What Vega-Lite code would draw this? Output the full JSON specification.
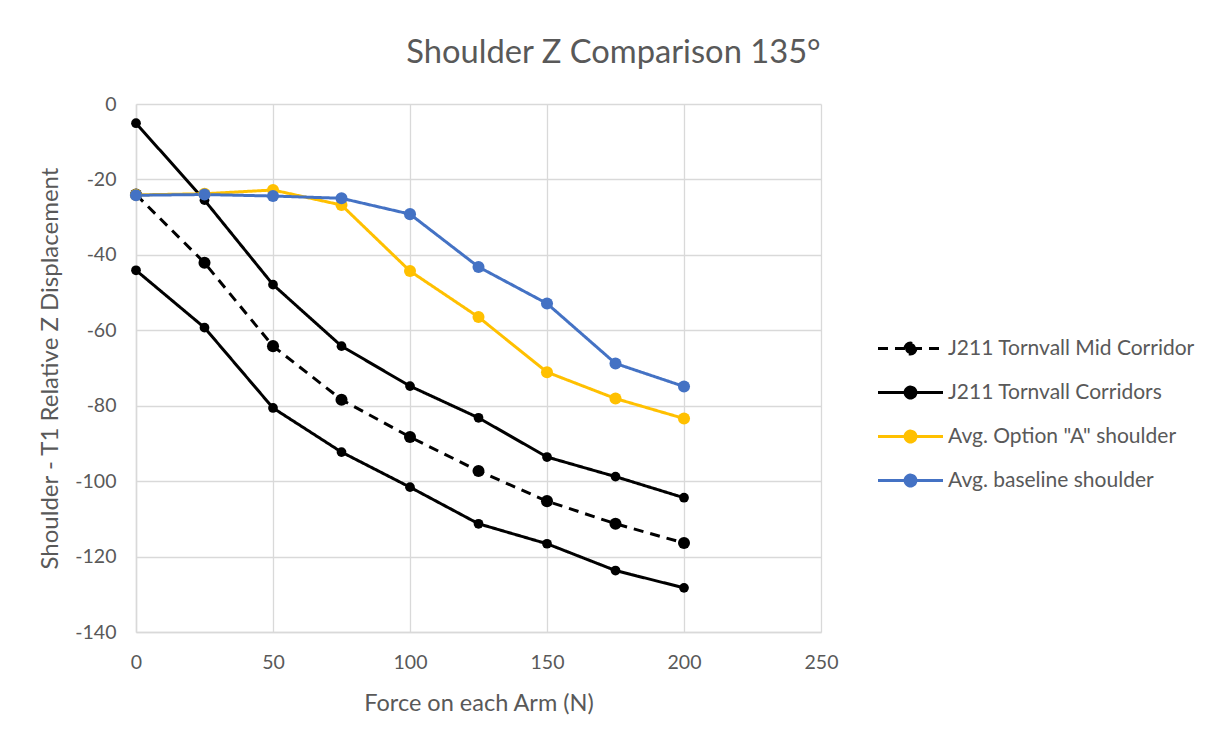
{
  "$schema": "https://vega.github.io/schema/vega-lite/v6.json",
  "width": 685,
  "height": 528,
  "autosize": {"type": "none"},
  "padding": {"left": 136, "top": 104, "right": 404, "bottom": 113},
  "background": "white",
  "title": {
    "text": "Shoulder Z Comparison 135°",
    "font": "Lato",
    "fontSize": 32.7,
    "fontWeight": "normal",
    "color": "#595959",
    "anchor": "middle",
    "frame": "group",
    "dx": 135,
    "offset": 24
  },
  "config": {
    "view": {"stroke": null},
    "axis": {
      "labelFont": "Lato",
      "labelFontSize": 19.5,
      "labelColor": "#595959",
      "titleFont": "Lato",
      "titleFontSize": 23.5,
      "titleFontWeight": "normal",
      "titleColor": "#595959",
      "gridColor": "#D9D9D9",
      "gridWidth": 1.3,
      "domainColor": "#D9D9D9",
      "domainWidth": 1.5,
      "ticks": false,
      "labelFlush": false
    },
    "legend": {
      "labelFont": "Lato",
      "labelFontSize": 21,
      "labelColor": "#595959",
      "labelLimit": 0
    }
  },
  "data": {
    "values": [
      {"force": 0, "disp": -24.0, "series": "J211 Tornvall Mid Corridor", "line": "mid"},
      {"force": 25, "disp": -42.1, "series": "J211 Tornvall Mid Corridor", "line": "mid"},
      {"force": 50, "disp": -64.2, "series": "J211 Tornvall Mid Corridor", "line": "mid"},
      {"force": 75, "disp": -78.4, "series": "J211 Tornvall Mid Corridor", "line": "mid"},
      {"force": 100, "disp": -88.3, "series": "J211 Tornvall Mid Corridor", "line": "mid"},
      {"force": 125, "disp": -97.3, "series": "J211 Tornvall Mid Corridor", "line": "mid"},
      {"force": 150, "disp": -105.3, "series": "J211 Tornvall Mid Corridor", "line": "mid"},
      {"force": 175, "disp": -111.3, "series": "J211 Tornvall Mid Corridor", "line": "mid"},
      {"force": 200, "disp": -116.4, "series": "J211 Tornvall Mid Corridor", "line": "mid"},
      {"force": 0, "disp": -5.1, "series": "J211 Tornvall Corridors", "line": "upper"},
      {"force": 25, "disp": -25.5, "series": "J211 Tornvall Corridors", "line": "upper"},
      {"force": 50, "disp": -47.9, "series": "J211 Tornvall Corridors", "line": "upper"},
      {"force": 75, "disp": -64.2, "series": "J211 Tornvall Corridors", "line": "upper"},
      {"force": 100, "disp": -74.8, "series": "J211 Tornvall Corridors", "line": "upper"},
      {"force": 125, "disp": -83.2, "series": "J211 Tornvall Corridors", "line": "upper"},
      {"force": 150, "disp": -93.6, "series": "J211 Tornvall Corridors", "line": "upper"},
      {"force": 175, "disp": -98.8, "series": "J211 Tornvall Corridors", "line": "upper"},
      {"force": 200, "disp": -104.4, "series": "J211 Tornvall Corridors", "line": "upper"},
      {"force": 0, "disp": -44.1, "series": "J211 Tornvall Corridors", "line": "lower"},
      {"force": 25, "disp": -59.3, "series": "J211 Tornvall Corridors", "line": "lower"},
      {"force": 50, "disp": -80.6, "series": "J211 Tornvall Corridors", "line": "lower"},
      {"force": 75, "disp": -92.3, "series": "J211 Tornvall Corridors", "line": "lower"},
      {"force": 100, "disp": -101.6, "series": "J211 Tornvall Corridors", "line": "lower"},
      {"force": 125, "disp": -111.3, "series": "J211 Tornvall Corridors", "line": "lower"},
      {"force": 150, "disp": -116.6, "series": "J211 Tornvall Corridors", "line": "lower"},
      {"force": 175, "disp": -123.7, "series": "J211 Tornvall Corridors", "line": "lower"},
      {"force": 200, "disp": -128.3, "series": "J211 Tornvall Corridors", "line": "lower"},
      {"force": 0, "disp": -24.1, "series": "Avg. Option \"A\" shoulder", "line": "optA"},
      {"force": 25, "disp": -23.8, "series": "Avg. Option \"A\" shoulder", "line": "optA"},
      {"force": 50, "disp": -22.8, "series": "Avg. Option \"A\" shoulder", "line": "optA"},
      {"force": 75, "disp": -26.8, "series": "Avg. Option \"A\" shoulder", "line": "optA"},
      {"force": 100, "disp": -44.3, "series": "Avg. Option \"A\" shoulder", "line": "optA"},
      {"force": 125, "disp": -56.5, "series": "Avg. Option \"A\" shoulder", "line": "optA"},
      {"force": 150, "disp": -71.1, "series": "Avg. Option \"A\" shoulder", "line": "optA"},
      {"force": 175, "disp": -78.1, "series": "Avg. Option \"A\" shoulder", "line": "optA"},
      {"force": 200, "disp": -83.4, "series": "Avg. Option \"A\" shoulder", "line": "optA"},
      {"force": 0, "disp": -24.2, "series": "Avg. baseline shoulder", "line": "base"},
      {"force": 25, "disp": -24.0, "series": "Avg. baseline shoulder", "line": "base"},
      {"force": 50, "disp": -24.4, "series": "Avg. baseline shoulder", "line": "base"},
      {"force": 75, "disp": -25.0, "series": "Avg. baseline shoulder", "line": "base"},
      {"force": 100, "disp": -29.2, "series": "Avg. baseline shoulder", "line": "base"},
      {"force": 125, "disp": -43.2, "series": "Avg. baseline shoulder", "line": "base"},
      {"force": 150, "disp": -52.9, "series": "Avg. baseline shoulder", "line": "base"},
      {"force": 175, "disp": -68.8, "series": "Avg. baseline shoulder", "line": "base"},
      {"force": 200, "disp": -74.9, "series": "Avg. baseline shoulder", "line": "base"}
    ]
  },
  "encoding": {
    "x": {
      "field": "force",
      "type": "quantitative",
      "title": "Force on each Arm (N)",
      "scale": {"domain": [0, 250], "nice": false},
      "axis": {"values": [0, 50, 100, 150, 200, 250], "labelPadding": 21, "titlePadding": 20, "domain": true}
    },
    "y": {
      "field": "disp",
      "type": "quantitative",
      "title": "Shoulder - T1 Relative Z Displacement",
      "scale": {"domain": [-140, 0], "nice": false},
      "axis": {"values": [0, -20, -40, -60, -80, -100, -120, -140], "labelPadding": 20, "titlePadding": 12, "titleFontSize": 24, "domain": true, "labelExpr": "replace(datum.label, '−', '-')"}
    },
    "color": {
      "field": "series",
      "type": "nominal",
      "scale": {
        "domain": ["J211 Tornvall Mid Corridor", "J211 Tornvall Corridors", "Avg. Option \"A\" shoulder", "Avg. baseline shoulder"],
        "range": ["#000000", "#000000", "#FFC000", "#4472C4"]
      },
      "legend": {
        "title": null,
        "orient": "none",
        "legendX": 762,
        "legendY": 232,
        "symbolType": "M -3 0 L 3 0 M 0.5 0 A 0.5 0.5 0 1 1 -0.5 0 A 0.5 0.5 0 1 1 0.5 0 Z",
        "symbolSize": 470,
        "symbolStrokeWidth": 3,
        "labelOffset": 25,
        "rowPadding": 20,
        "encode": {
          "symbols": {"update": {"fill": {"scale": "color", "field": "value"}}}
        }
      }
    }
  },
  "layer": [
    {
      "mark": {"type": "line", "strokeWidth": 3},
      "encoding": {
        "detail": {"field": "line"},
        "strokeDash": {
          "field": "series",
          "type": "nominal",
          "scale": {
            "domain": ["J211 Tornvall Mid Corridor", "J211 Tornvall Corridors", "Avg. Option \"A\" shoulder", "Avg. baseline shoulder"],
            "range": [[10, 7], [1, 0], [1, 0], [1, 0]]
          },
          "legend": {
            "title": null,
            "orient": "none",
            "legendX": 762,
            "legendY": 232
          }
        }
      }
    },
    {
      "transform": [{"filter": "datum.series === 'J211 Tornvall Corridors'"}],
      "mark": {"type": "point", "filled": true, "opacity": 1, "shape": "circle", "size": 95}
    },
    {
      "transform": [{"filter": "datum.series !== 'J211 Tornvall Corridors'"}],
      "mark": {"type": "point", "filled": true, "opacity": 1, "shape": "circle", "size": 145}
    }
  ]
}
